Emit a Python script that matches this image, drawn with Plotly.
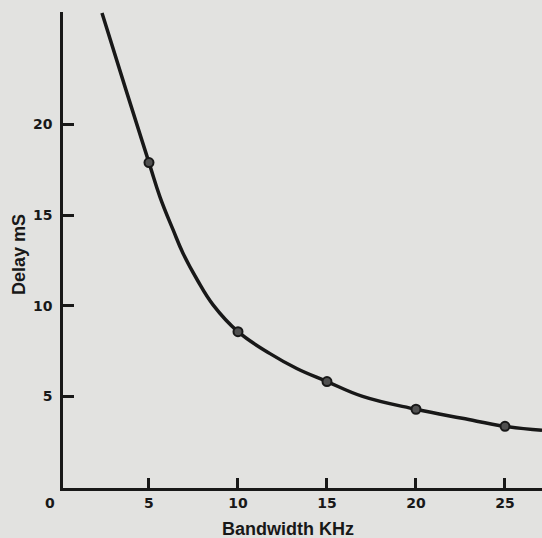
import plotly.graph_objects as go

# Measured points (markers)
point_bw = [5, 10, 15, 20, 25]
point_delay = [17.9, 8.57, 5.82, 4.29, 3.35]

# Curve
curve_bw = [2.36, 3.71, 5.0, 5.62, 6.35, 6.91, 7.70, 8.60, 10.0, 11.8, 13.3, 15.0, 17.0, 20.0, 22.6, 25.0, 27.08]
curve_delay = [26.15, 21.9, 17.9, 16.0, 14.2, 12.9, 11.45, 10.05, 8.57, 7.36, 6.54, 5.82, 5.0, 4.29, 3.79, 3.35, 3.13]

x_ticks = [5, 10, 15, 20, 25]
y_ticks = [5, 10, 15, 20]

ink = "#181818"
paper = "#e2e2e0"
tick_font = dict(family="DejaVu Sans", size=14, color=ink, weight="bold")
title_font = dict(family="Liberation Sans, Arial, sans-serif", size=18, color=ink, weight="bold")

fig = go.Figure()
fig.add_trace(go.Scatter(
    x=curve_bw, y=curve_delay, mode="lines",
    line=dict(color=ink, width=3.5, shape="spline", smoothing=1.2),
    hoverinfo="skip", showlegend=False,
))
fig.add_trace(go.Scatter(
    x=point_bw, y=point_delay, mode="markers",
    marker=dict(symbol="circle", size=9, color="#505050", line=dict(color=ink, width=2)),
    showlegend=False,
))

# plot area in pixels
PL, PR, PT, PB = 63, 542, 12, 488

fig.update_layout(
    width=542, height=538,
    margin=dict(l=PL, r=542 - PR, t=PT, b=538 - PB, pad=0),
    paper_bgcolor=paper, plot_bgcolor=paper,
    font=dict(family="DejaVu Sans", size=14, color=ink),
    xaxis=dict(
        range=[0.169, 27.08], tickvals=x_ticks, ticktext=[str(v) for v in x_ticks],
        ticks="inside", ticklen=10, tickwidth=2.5, tickcolor=ink,
        showline=True, linecolor=ink, linewidth=2.5,
        showgrid=False, zeroline=False, tickfont=tick_font,
    ),
    yaxis=dict(
        range=[-0.055, 26.21], tickvals=y_ticks, ticktext=[str(v) for v in y_ticks],
        ticks="inside", ticklen=11, tickwidth=2.5, tickcolor=ink,
        showline=True, linecolor=ink, linewidth=2.5,
        showgrid=False, zeroline=False, tickfont=tick_font,
        ticklabelstandoff=5,
    ),
)

def px_ann(text, px, py, font, angle=0):
    return dict(text=text, xref="paper", yref="paper",
                x=(px - PL) / (PR - PL), y=(PB - py) / (PB - PT),
                xanchor="center", yanchor="middle", showarrow=False,
                textangle=angle, font=font)

fig.update_layout(annotations=[
    px_ann("0", 50, 503, tick_font),
    px_ann("Bandwidth KHz", 288, 529, title_font),
    px_ann("Delay mS", 19, 255, title_font, angle=-90),
])

fig.write_html("out.html", config={"displayModeBar": False},
               post_script="document.body.style.margin='0';document.body.style.overflow='hidden';")
